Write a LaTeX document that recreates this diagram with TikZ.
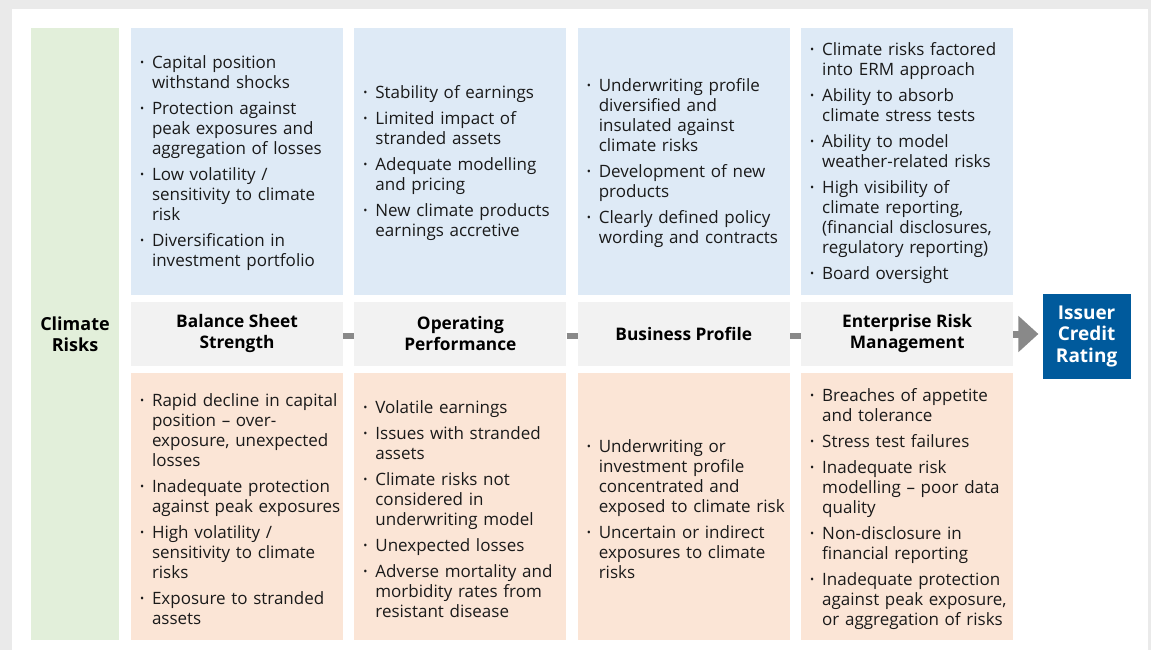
\documentclass[tikz,border=0pt]{standalone}
\usepackage{fontspec}
\setmainfont{Open Sans}
\usepackage{tikz}
\usetikzlibrary{positioning, arrows.meta}
\definecolor{pagegray}{RGB}{234, 234, 234}
\definecolor{climgreen}{RGB}{226, 239, 218}
\definecolor{strongblue}{RGB}{222, 234, 246}
\definecolor{weakorange}{RGB}{251, 229, 214}
\definecolor{hdrgray}{RGB}{242, 242, 242}
\definecolor{linkgray}{RGB}{137, 137, 137}
\definecolor{ratingblue}{RGB}{0, 90, 156}
\definecolor{bodytext}{RGB}{26, 26, 26}
\newcommand{\bitem}[1]{\par\hangindent=12pt\relax\hangafter=1\relax\noindent
  \makebox[12pt][l]{\raisebox{1.8pt}{\fontsize{11}{11}\selectfont\textbullet}}%
  {\let\\\newline#1}\par}
\newcommand{\boxsetup}{\raggedright\leftskip=9pt\relax
  \rightskip=-8pt plus 1fil\relax\parskip=6pt\relax}
\tikzset{
  header/.style={
    fill=hdrgray,
    minimum width=212pt,
    minimum height=64pt,
    inner sep=0pt,
    align=center,
    font=\fontsize{17.3}{21}\selectfont\bfseries
  },
  factorbox/.style={
    minimum width=212pt,
    minimum height=267pt,
    inner sep=0pt,
    text width=212pt,
    text=bodytext,
    font=\fontsize{17}{20}\selectfont,
    execute at begin node=\boxsetup,
    execute at end node={\par\vspace*{9pt}}
  },
  strong/.style={factorbox, fill=strongblue},
  weak/.style={factorbox, fill=weakorange},
  climate/.style={
    fill=climgreen,
    minimum width=88pt,
    minimum height=612pt,
    inner sep=0pt,
    align=center,
    font=\fontsize{18}{21}\selectfont\bfseries
  },
  rating/.style={
    fill=ratingblue,
    minimum width=88pt,
    minimum height=85pt,
    inner sep=0pt,
    align=center,
    text=white,
    font=\fontsize{19}{21.5}\selectfont\bfseries
  },
  link/.style={draw=linkgray, line width=6pt},
  bigarrow/.style={draw=linkgray, line width=7pt, -{Triangle[width=35pt, length=20pt]}, shorten >=4pt}
}
\begin{document}
\begin{tikzpicture}[x=1pt, y=-1pt, node distance=7pt and 11pt]
  \useasboundingbox (0,0) rectangle (1151,650);
  \fill[pagegray] (0,0) rectangle (1151,650);
  \fill[white] (12,9) rectangle (1148,650);

  % header row
  \node[header] (bss) at (237,334) {Balance Sheet\\Strength};
  \node[header, right=of bss] (op) {Operating\\Performance};
  \node[header, right=of op] (bp) {Business Profile};
  \node[header, right=of bp] (erm) {Enterprise Risk\\Management};

  \node[climate] (cr) at (75,334) {Climate\\Risks};
  \node[rating, right=29pt of erm, yshift=-2pt] (icr) {Issuer\\Credit\\Rating};

  % strengths
  \node[strong, above=of bss] (bss-s) {
    \bitem{Capital position\\withstand shocks}
    \bitem{Protection against\\peak exposures and\\aggregation of losses}
    \bitem{Low volatility /\\sensitivity to climate\\risk}
    \bitem{Diversification in\\investment portfolio}};
  \node[strong, above=of op] (op-s) {
    \bitem{Stability of earnings}
    \bitem{Limited impact of\\stranded assets}
    \bitem{Adequate modelling\\and pricing}
    \bitem{New climate products\\earnings accretive}};
  \node[strong, above=of bp] (bp-s) {
    \bitem{Underwriting profile\\diversified and\\insulated against\\climate risks}
    \bitem{Development of new\\products}
    \bitem{Clearly defined policy\\wording and contracts}};
  \node[strong, above=of erm] (erm-s) {
    \bitem{Climate risks factored\\into ERM approach}
    \bitem{Ability to absorb\\climate stress tests}
    \bitem{Ability to model\\weather-related risks}
    \bitem{High visibility of\\climate reporting,\\(financial disclosures,\\regulatory reporting)}
    \bitem{Board oversight}};

  % weaknesses
  \node[weak, below=of bss] (bss-w) {
    \bitem{Rapid decline in capital\\position -- over-\\exposure, unexpected\\losses}
    \bitem{Inadequate protection\\against peak exposures}
    \bitem{High volatility /\\sensitivity to climate\\risks}
    \bitem{Exposure to stranded\\assets}};
  \node[weak, below=of op] (op-w) {
    \bitem{Volatile earnings}
    \bitem{Issues with stranded\\assets}
    \bitem{Climate risks not\\considered in\\underwriting model}
    \bitem{Unexpected losses}
    \bitem{Adverse mortality and\\morbidity rates from\\resistant disease}};
  \node[weak, below=of bp] (bp-w) {
    \bitem{Underwriting or\\investment profile\\concentrated and\\exposed to climate risk}
    \bitem{Uncertain or indirect\\exposures to climate\\risks}};
  \node[weak, below=of erm] (erm-w) {
    \bitem{Breaches of appetite\\and tolerance}
    \bitem{Stress test failures}
    \bitem{Inadequate risk\\modelling -- poor data\\quality}
    \bitem{Non-disclosure in\\financial reporting}
    \bitem{Inadequate protection\\against peak exposure,\\or aggregation of risks}};

  % connectors
  \draw[link] ([yshift=-2pt]bss.east) -- ([yshift=-2pt]op.west);
  \draw[link] ([yshift=-2pt]op.east) -- ([yshift=-2pt]bp.west);
  \draw[link] ([yshift=-2pt]bp.east) -- ([yshift=-2pt]erm.west);
  \draw[bigarrow] (erm) -- (erm -| icr.west);
\end{tikzpicture}
\end{document}
